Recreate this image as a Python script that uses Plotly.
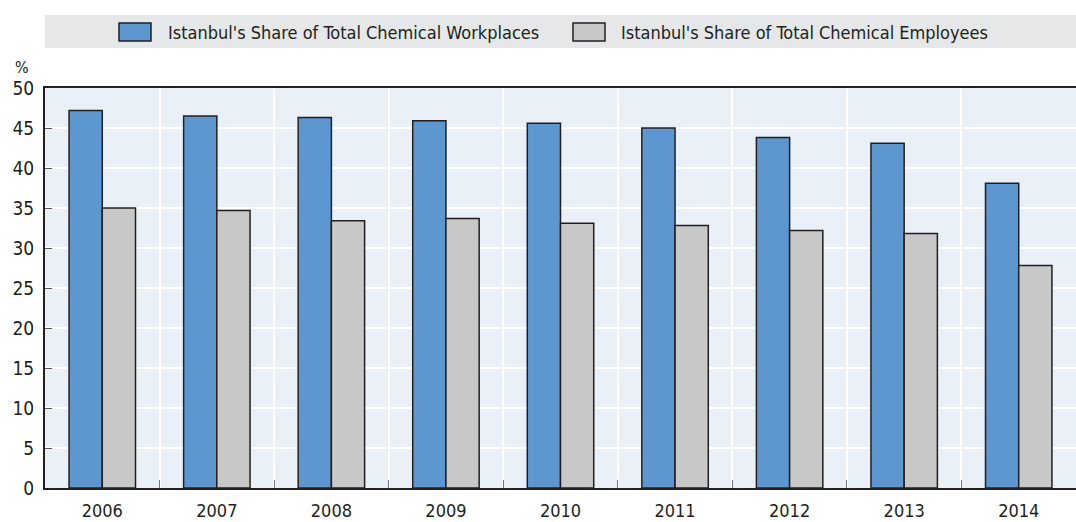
import plotly.graph_objects as go

years = ["2006", "2007", "2008", "2009", "2010", "2011", "2012", "2013", "2014"]
workplaces = [47.2, 46.5, 46.3, 45.9, 45.6, 45.0, 43.8, 43.1, 38.1]
employees = [35.0, 34.7, 33.4, 33.7, 33.1, 32.8, 32.2, 31.8, 27.8]
y_ticks = [0, 5, 10, 15, 20, 25, 30, 35, 40, 45, 50]
series_names = ["Istanbul's Share of Total Chemical Workplaces",
                "Istanbul's Share of Total Chemical Employees"]
series_colors = ["#5e97d0", "#c8c8c9"]

FONT = "DejaVu Sans Condensed, Liberation Sans Narrow, sans-serif"
DARK = "#231f20"

W, H = 1076, 522
ML, MR, MT, MB = 45, 0, 88, 34
PW, PH = W - ML - MR, H - MT - MB


def px_x(x):
    return (x - ML) / PW


def px_y(y):
    return (H - MB - y) / PH


fig = go.Figure()
for vals, name, col in zip([workplaces, employees], series_names, series_colors):
    fig.add_trace(go.Bar(
        x=years, y=vals, name=name, showlegend=False,
        marker=dict(color=col, line=dict(color=DARK, width=1.5)),
    ))

shapes = [dict(
    type="rect", xref="paper", yref="paper",
    x0=px_x(45), x1=px_x(1076), y0=px_y(48), y1=px_y(15),
    fillcolor="#e6e7e8", line=dict(width=0), layer="below",
)]
annotations = [dict(
    text="%", xref="paper", yref="paper", x=px_x(13), y=px_y(68),
    xanchor="left", yanchor="middle", showarrow=False,
    font=dict(size=16, family=FONT, color=DARK),
)]
legend_items = [(119, 166), (573, 619)]
for (sx, tx), name, col in zip(legend_items, series_names, series_colors):
    shapes.append(dict(
        type="rect", xref="paper", yref="paper",
        x0=px_x(sx), x1=px_x(sx + 32), y0=px_y(41), y1=px_y(23),
        fillcolor=col, line=dict(color=DARK, width=1.5),
    ))
    annotations.append(dict(
        text=name, xref="paper", yref="paper", x=px_x(tx), y=px_y(32),
        xanchor="left", yanchor="middle", showarrow=False,
        font=dict(size=18, family=FONT, color=DARK),
    ))

fig.update_layout(
    width=W, height=H,
    margin=dict(l=ML, r=MR, t=MT, b=MB),
    paper_bgcolor="white",
    plot_bgcolor="#eaf0f8",
    font=dict(family=FONT, size=18, color=DARK),
    barmode="group",
    bargap=0.42,
    bargroupgap=0,
    shapes=shapes,
    annotations=annotations,
)

fig.update_xaxes(
    type="category",
    tickson="boundaries",
    showgrid=True, gridcolor="white", gridwidth=2,
    ticks="inside", ticklen=8, tickcolor="#777777", tickwidth=1,
    showline=True, linecolor=DARK, linewidth=2,
    mirror=True,
    automargin=False,
    ticklabelstandoff=5,
    tickfont=dict(size=18, family=FONT, color=DARK),
)
fig.update_yaxes(
    range=[0, 50],
    tickvals=y_ticks,
    showgrid=True, gridcolor="white", gridwidth=2,
    ticks="inside", ticklen=7, tickcolor="#555555", tickwidth=1,
    showline=True, linecolor=DARK, linewidth=2,
    zeroline=False,
    automargin=False,
    ticklabelstandoff=5,
    tickfont=dict(size=19, family=FONT, color=DARK),
)

fig.write_html("out.html", config={"displayModeBar": False},
               post_script="document.body.style.margin='0';")
